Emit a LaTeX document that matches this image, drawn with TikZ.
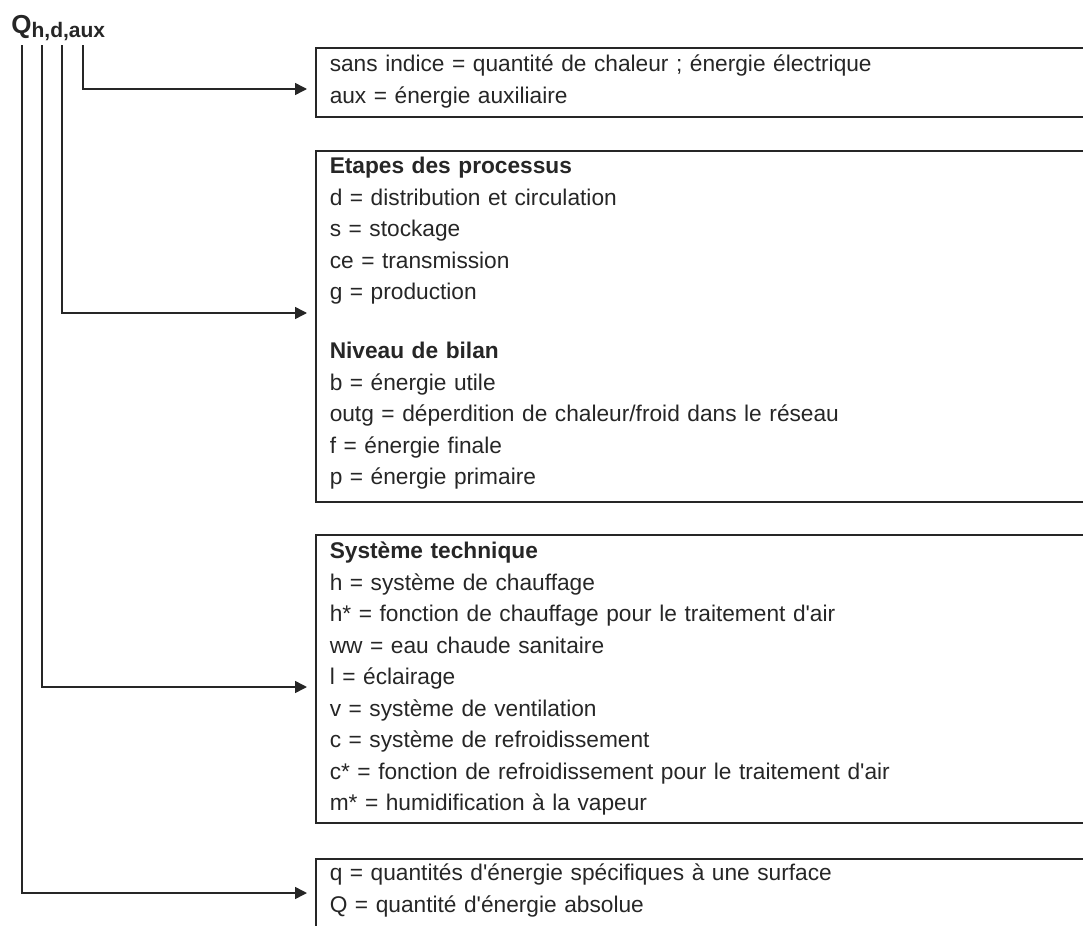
\documentclass[tikz,border=0pt]{standalone}
\usepackage{fontspec}
\setmainfont{Liberation Sans}
\usepackage{tikz}
\usetikzlibrary{arrows.meta, positioning}

\tikzset{
	legende/.style={draw=black!85, line width=0.75pt, anchor=north west, inner xsep=7pt, inner ysep=0pt, text width=392pt, align=left, text=black!85, font=\fontsize{11.35}{15.75}\selectfont},
	fleche/.style={draw=black!85, line width=0.75pt, -{Triangle[length=6pt,width=6pt]}, shorten >=4pt}
}

\begin{document}
\begin{tikzpicture}[x=0.5pt,y=-0.5pt]
			\useasboundingbox (0,0) rectangle (1083,926);
			\clip (0,0) rectangle (1083,926);
			
			\node[anchor=base west, inner sep=0pt, text=black!85, font=\bfseries] (sym) at (11,33) {\fontsize{13}{15}\selectfont Q\raisebox{-2pt}{\fontsize{10.5}{12}\selectfont h,d,aux}};
			
			\coordinate (i1) at (83,45);
			\coordinate (i2) at (62,45);
			\coordinate (i3) at (42,45);
			\coordinate (i4) at (22,45);
			
			\node[legende, text height=12pt, text depth=22.5pt] (b1) at (315,47) {sans indice = quantité de chaleur ; énergie électrique\\aux = énergie auxiliaire};
			
			\node[legende, text height=11.5pt, text depth=164pt] (b2) at (315,150) {\textbf{Etapes des processus}\\d = distribution et circulation\\s = stockage\\ce = transmission\\g = production\\[13.75pt]\textbf{Niveau de bilan}\\b = énergie utile\\outg = déperdition de chaleur/froid dans le réseau\\f = énergie finale\\p = énergie primaire};
			
			\node[legende, text height=12pt, text depth=132pt] (b3) at (315,534) {\textbf{Système technique}\\h = système de chauffage\\h* = fonction de chauffage pour le traitement d\textquotesingle air\\ww = eau chaude sanitaire\\l = éclairage\\v = système de ventilation\\c = système de refroidissement\\c* = fonction de refroidissement pour le traitement d\textquotesingle air\\m* = humidification à la vapeur};
			
			\node[legende, text height=11pt, text depth=40pt] (b4) at (315,858) {q = quantités d\textquotesingle énergie spécifiques à une surface\\Q = quantité d\textquotesingle énergie absolue};
			
			\draw[fleche] (i1) |- ([yshift=-21pt]b1.north west);
			\draw[fleche] (i2) |- ([yshift=-81.5pt]b2.north west);
			\draw[fleche] (i3) |- ([yshift=-76.5pt]b3.north west);
			\draw[fleche] (i4) |- ([yshift=-17.5pt]b4.north west);
\end{tikzpicture}
\end{document}
